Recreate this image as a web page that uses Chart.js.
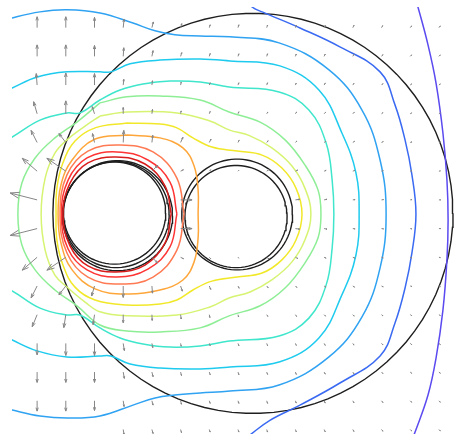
<!DOCTYPE html>
<html>
<head>
<meta charset="utf-8">
<script src="https://cdn.jsdelivr.net/npm/chart.js@4.4.1/dist/chart.umd.min.js"></script>
<style>
  html, body { margin: 0; padding: 0; background: #fff; }
  canvas { display: block; }
</style>
</head>
<body>
<canvas id="campo" width="459" height="434"></canvas>
<script>
// Curvas de nível do potencial (da mais externa para a mais interna)
const nivelRoxo = [[6.21,7.9],[6.27,7.72],[6.62,6.40],[6.90,5.07],[7.14,3.33],[7.28,1.69],[7.32,0.30],[7.28,-1.09],[7.14,-2.84],[6.90,-4.51],[6.62,-5.80],[6.17,-7.09],[6.06,-7.36]];
const nivelAzul = [[0.40,7.9],[0.49,7.72],[0.84,7.55],[2.16,6.99],[3.55,6.33],[4.95,5.46],[5.47,4.31],[5.82,3.09],[6.06,1.87],[6.20,0.51],[6.06,-0.85],[5.82,-2.07],[5.47,-3.29],[4.95,-4.44],[3.55,-5.38],[2.16,-6.15],[1.11,-6.68],[0.35,-7.24],[0.2,-7.35]];
const nivelAzulClaro = [[-8.1,7.25],[-7.87,7.34],[-6.90,7.55],[-5.96,7.62],[-4.81,7.51],[-3.66,7.16],[-2.89,6.89],[-2.20,6.75],[-1.32,6.71],[-0.28,6.68],[1.43,6.47],[3.17,5.53],[4.32,4.13],[4.95,2.39],[5.16,0.51],[4.95,-1.37],[4.32,-3.08],[3.17,-4.47],[1.43,-5.45],[-0.28,-5.66],[-1.32,-5.73],[-2.20,-5.80],[-2.89,-5.90],[-3.66,-6.15],[-4.81,-6.53],[-5.96,-6.60],[-6.90,-6.53],[-7.87,-6.32],[-8.1,-6.25]];
const nivelCiano = [[-8.1,4.8],[-7.87,4.90],[-7.00,5.28],[-5.96,5.46],[-4.81,5.46],[-4.43,5.46],[-3.76,5.74],[-2.72,5.87],[-1.32,5.91],[-0.28,5.84],[1.46,5.67],[2.82,4.83],[3.62,3.33],[4.11,1.94],[4.22,0.51],[4.11,-0.92],[3.62,-2.31],[2.82,-3.81],[1.46,-4.64],[-0.28,-4.82],[-1.32,-4.89],[-2.72,-4.86],[-3.76,-4.72],[-4.43,-4.44],[-4.81,-4.44],[-5.96,-4.47],[-7.00,-4.26],[-7.87,-3.88],[-8.1,-3.75]];
const nivelTurquesa = [[-8.1,3.1],[-7.87,3.19],[-6.90,3.78],[-5.96,4.03],[-5.51,4.03],[-4.81,4.48],[-4.11,4.83],[-3.31,5.04],[-2.37,5.14],[-1.32,5.11],[-0.31,4.93],[1.43,4.76],[2.47,4.13],[3.07,2.98],[3.28,1.69],[3.34,0.51],[3.28,-0.68],[3.07,-1.97],[2.47,-3.12],[1.43,-3.74],[-0.31,-3.92],[-1.32,-4.09],[-2.37,-4.13],[-3.31,-4.02],[-4.11,-3.81],[-4.81,-3.46],[-5.51,-3.01],[-5.96,-3.01],[-6.90,-2.77],[-7.87,-2.17],[-8.1,-2.1]];
const nivelVerde = [[-4.81,4.38],[-3.87,4.59],[-2.72,4.62],[-1.32,4.48],[-0.31,4.06],[0.77,3.71],[1.64,3.09],[2.33,2.22],[2.79,1.34],[2.89,0.51],[2.79,-0.32],[2.33,-1.20],[1.64,-2.07],[0.77,-2.69],[-0.31,-3.04],[-1.32,-3.46],[-2.72,-3.60],[-3.87,-3.57],[-4.81,-3.36],[-5.60,-2.70],[-6.38,-2.14],[-7.07,-1.44],[-7.53,-0.57],[-7.67,0.51],[-7.53,1.59],[-7.07,2.46],[-6.38,3.16],[-5.60,3.72],[-4.81,4.38]];
const nivelVerdeAmarelo = [[-4.81,3.92],[-3.87,4.06],[-2.13,4.03],[-0.98,3.75],[-0.31,3.44],[0.42,3.23],[1.18,2.81],[1.88,2.18],[2.33,1.41],[2.54,0.51],[2.33,-0.40],[1.88,-1.16],[1.18,-1.79],[0.42,-2.21],[-0.31,-2.42],[-0.98,-2.73],[-2.13,-3.01],[-3.87,-3.04],[-4.81,-2.90],[-5.33,-2.56],[-5.92,-2.07],[-6.38,-1.62],[-6.72,-0.75],[-6.86,0.51],[-6.72,1.76],[-6.38,2.63],[-5.96,3.09],[-5.33,3.57],[-4.81,3.92]];
const nivelAmarelo = [[-3.87,3.68],[-2.72,3.64],[-2.13,3.51],[-1.57,3.16],[-0.91,2.84],[-0.03,2.70],[0.84,2.56],[1.53,2.11],[2.02,1.41],[2.23,0.51],[2.02,-0.40],[1.53,-1.09],[0.84,-1.55],[-0.03,-1.69],[-0.91,-1.83],[-1.57,-2.14],[-2.13,-2.49],[-2.72,-2.63],[-3.87,-2.66],[-4.98,-2.49],[-5.68,-2.04],[-6.10,-1.27],[-6.31,-0.40],[-6.34,0.51],[-6.31,1.41],[-6.10,2.29],[-5.68,3.05],[-4.98,3.51],[-3.87,3.68]];
const nivelLaranja = [[-3.87,3.26],[-2.72,3.16],[-1.92,2.81],[-1.53,2.18],[-1.39,1.34],[-1.39,0.51],[-1.39,-0.32],[-1.53,-1.16],[-1.92,-1.79],[-2.72,-2.14],[-3.87,-2.28],[-4.98,-2.10],[-5.78,-1.44],[-6.17,-0.50],[-6.27,0.51],[-6.17,1.52],[-5.78,2.39],[-4.98,3.12],[-3.87,3.26]];
const nivelLaranjaAvermelhado = [[-1.88,0.51],[-2.13,1.76],[-2.96,2.67],[-4.11,2.91],[-5.23,2.70],[-5.96,1.87],[-6.20,0.51],[-5.96,-0.85],[-5.23,-1.69],[-4.11,-1.93],[-2.96,-1.69],[-2.13,-0.75],[-1.88,0.51]];
const nivelVermelho = [[-2.13,0.51],[-2.37,1.62],[-3.14,2.39],[-4.22,2.67],[-5.26,2.46],[-5.92,1.69],[-6.15,0.51],[-5.92,-0.71],[-5.26,-1.44],[-4.22,-1.69],[-3.14,-1.41],[-2.37,-0.64],[-2.13,0.51]];
const nivelVermelhoEscuro = [[-2.33,0.51],[-2.54,1.48],[-3.24,2.25],[-4.25,2.49],[-5.23,2.29],[-5.85,1.59],[-6.10,0.51],[-5.85,-0.61],[-5.23,-1.30],[-4.25,-1.51],[-3.24,-1.27],[-2.54,-0.50],[-2.33,0.51]];

const niveis = [nivelRoxo, nivelAzul, nivelAzulClaro, nivelCiano, nivelTurquesa, nivelVerde,
    nivelVerdeAmarelo, nivelAmarelo, nivelLaranja, nivelLaranjaAvermelhado, nivelVermelho, nivelVermelhoEscuro];
const coresNiveis = ['#5a4af0', '#3a6af2', '#2fa2f2', '#1ecbee', '#3fe6cc', '#8eee96',
    '#d6f472', '#f2e82a', '#ffa63a', '#ff7a52', '#ff3434', '#d81c1c'];

// Contornos dos condutores: fronteira externa, cilindro da esquerda e cilindro da direita
const circulosX = [0.52, -4.25, -4.20, -4.30, -0.03, -0.07];
const circulosY = [0.53, 0.49, 0.45, 0.54, 0.49, 0.42];
const circulosR = [6.97, 1.85, 1.92, 1.78, 1.93, 1.78];

// Grade do campo elétrico (quiver)
const gradeX = [-7, -6, -5, -4, -3, -2, -1, 0, 1, 2, 3, 4, 5, 6, 7];
const gradeY = [7, 6, 5, 4, 3, 2, 1, 0, -1, -2, -3, -4, -5, -6, -7];
const setaU = [
    [0, 0, 0, 0.03, 0.05, 0.04, 0.03, 0.03, 0.03, 0.03, 0.04, 0.04, 0.04, 0.05, 0.05],
    [0, 0, 0, 0.02, 0.04, 0.04, 0.03, 0.03, 0.03, 0.03, 0.04, 0.04, 0.05, 0.05, 0.05],
    [-0.03, 0, 0, 0.02, 0.02, 0.02, 0.03, 0.03, 0.03, 0.03, 0.04, 0.04, 0.05, 0.05, 0.05],
    [-0.12, 0, -0.08, 0, 0.02, 0.02, 0.03, 0.03, 0.04, 0.04, 0.05, 0.05, 0.05, 0.05, 0.05],
    [-0.21, -0.24, -0.07, 0.02, 0.03, 0.08, 0.06, 0.04, 0.05, 0.05, 0.06, 0.06, 0.06, 0.06, 0.05],
    [-0.52, -0.66, 0, 0, 0.20, 0.10, 0.05, 0.03, 0.08, 0.08, 0.07, 0.07, 0.06, 0.06, 0.05],
    [-0.94, 0, 0, 0, 0, 0.40, 0, 0, 0, 0.15, 0.10, 0.08, 0.07, 0.06, 0.06],
    [-0.94, 0, 0, 0, 0, 0.40, 0, 0, 0, 0.15, 0.10, 0.08, 0.07, 0.06, 0.06],
    [-0.52, -0.66, 0, 0, 0.20, 0.10, 0.05, 0.03, 0.08, 0.08, 0.07, 0.07, 0.06, 0.06, 0.05],
    [-0.21, -0.24, -0.10, 0, 0.02, 0.06, 0.05, 0.04, 0.05, 0.05, 0.06, 0.06, 0.06, 0.06, 0.05],
    [-0.17, -0.07, -0.05, 0, 0.01, 0.02, 0.02, 0.02, 0.04, 0.04, 0.05, 0.05, 0.05, 0.05, 0.05],
    [0, 0, 0, 0.04, 0.03, 0.02, 0.03, 0.03, 0.03, 0.03, 0.04, 0.04, 0.05, 0.05, 0.05],
    [0, 0, 0, 0.04, 0.04, 0.03, 0.03, 0.03, 0.03, 0.03, 0.04, 0.04, 0.05, 0.05, 0.05],
    [0, 0, 0, 0.03, 0.04, 0.03, 0.03, 0.03, 0.03, 0.03, 0.04, 0.04, 0.05, 0.05, 0.05],
    [0, 0, 0, 0.03, 0.04, 0.03, 0.03, 0.03, 0.03, 0.03, 0.04, 0.04, 0.05, 0.05, 0.05]
];
const setaV = [
    [0.38, 0.38, 0.36, 0.30, 0.20, 0.14, 0.10, 0.10, 0.09, 0.09, 0.08, 0.08, 0.07, 0.06, 0.06],
    [0.40, 0.40, 0.38, 0.30, 0.20, 0.13, 0.10, 0.09, 0.09, 0.08, 0.08, 0.07, 0.06, 0.05, 0.05],
    [0.40, 0.42, 0.40, 0.20, 0.15, 0.10, 0.08, 0.08, 0.08, 0.07, 0.07, 0.06, 0.05, 0.04, 0.04],
    [0.42, 0.45, 0.25, 0.22, 0.15, 0.10, 0.08, 0.07, 0.06, 0.06, 0.05, 0.05, 0.04, 0.03, 0.03],
    [0.42, 0.31, 0.31, 0.42, 0.25, 0.18, 0.12, 0.08, 0.06, 0.05, 0.04, 0.04, 0.03, 0.02, 0.02],
    [0.45, 0.45, 0, 0, 0.20, 0.05, 0.05, 0.03, 0.06, 0.04, 0.03, 0.03, 0.02, 0.02, 0.01],
    [0.24, 0, 0, 0, 0, 0, 0, 0, 0, 0.02, 0.02, 0.01, 0.01, 0.01, 0],
    [-0.24, 0, 0, 0, 0, 0, 0, 0, 0, -0.02, -0.02, -0.01, -0.01, -0.01, 0],
    [-0.45, -0.45, 0, 0, -0.20, -0.05, -0.05, -0.03, -0.06, -0.04, -0.03, -0.03, -0.02, -0.02, -0.01],
    [-0.42, -0.31, -0.35, -0.40, -0.25, -0.18, -0.12, -0.08, -0.06, -0.05, -0.04, -0.04, -0.03, -0.02, -0.02],
    [-0.42, -0.45, -0.35, -0.28, -0.20, -0.15, -0.10, -0.08, -0.06, -0.06, -0.05, -0.05, -0.04, -0.03, -0.03],
    [-0.40, -0.42, -0.42, -0.25, -0.15, -0.10, -0.08, -0.08, -0.08, -0.07, -0.07, -0.06, -0.05, -0.04, -0.04],
    [-0.36, -0.36, -0.36, -0.22, -0.16, -0.12, -0.09, -0.09, -0.08, -0.08, -0.07, -0.06, -0.05, -0.04, -0.04],
    [-0.36, -0.36, -0.34, -0.20, -0.15, -0.12, -0.09, -0.09, -0.09, -0.08, -0.08, -0.07, -0.06, -0.05, -0.05],
    [0, 0, 0, -0.18, -0.14, -0.11, -0.09, -0.09, -0.09, -0.08, -0.08, -0.07, -0.06, -0.05, -0.05]
];

// Função para gerar os pontos de um círculo
function pontosCirculo(cx, cy, r) {
    const pts = [];
    for (let k = 0; k <= 90; k++) {
        const t = k / 90 * 2 * Math.PI;
        pts.push({ x: cx + r * Math.cos(t), y: cy + r * Math.sin(t) });
    }
    return pts;
}

const datasets = [];
niveis.forEach((nivel, i) => {
    datasets.push({
        data: nivel.map(p => ({ x: p[0], y: p[1] })),
        showLine: true,
        borderColor: coresNiveis[i],
        borderWidth: 1.5,
        tension: 0.4,
        pointRadius: 0
    });
});
circulosX.forEach((cx, i) => {
    datasets.push({
        data: pontosCirculo(cx, circulosY[i], circulosR[i]),
        showLine: true,
        borderColor: '#1e1e1e',
        borderWidth: 1.4,
        tension: 0,
        pointRadius: 0
    });
});

// Plugin que desenha as setas do campo, no estilo do quiver
const pluginSetas = {
    id: 'setas',
    afterDatasetsDraw(chart) {
        const ctx = chart.ctx;
        const sx = chart.scales.x;
        const sy = chart.scales.y;
        ctx.save();
        ctx.strokeStyle = '#868686';
        ctx.lineWidth = 1;
        gradeY.forEach((gy, j) => {
            gradeX.forEach((gx, i) => {
                const u = setaU[j][i];
                const v = setaV[j][i];
                if (u === 0 && v === 0) return;
                const x0 = sx.getPixelForValue(gx);
                const y0 = sy.getPixelForValue(gy);
                const x1 = sx.getPixelForValue(gx + u);
                const y1 = sy.getPixelForValue(gy + v);
                const dx = x1 - x0;
                const dy = y1 - y0;
                const a = 0.33, b = 0.33;
                ctx.beginPath();
                ctx.moveTo(x0, y0);
                ctx.lineTo(x1, y1);
                ctx.moveTo(x1 - a * (dx + b * dy), y1 - a * (dy - b * dx));
                ctx.lineTo(x1, y1);
                ctx.lineTo(x1 - a * (dx - b * dy), y1 - a * (dy + b * dx));
                ctx.stroke();
            });
        });
        ctx.restore();
    }
};

new Chart(document.getElementById('campo'), {
    type: 'scatter',
    data: { datasets },
    options: {
        responsive: false,
        animation: false,
        events: [],
        layout: { padding: { left: 12, top: 7, right: 0, bottom: 0 } },
        plugins: { legend: { display: false }, tooltip: { enabled: false } },
        scales: {
            x: { type: 'linear', display: false, min: -7.875, max: 7.70 },
            y: { type: 'linear', display: false, min: -7.157, max: 7.72 }
        }
    },
    plugins: [pluginSetas]
});
</script>
</body>
</html>
